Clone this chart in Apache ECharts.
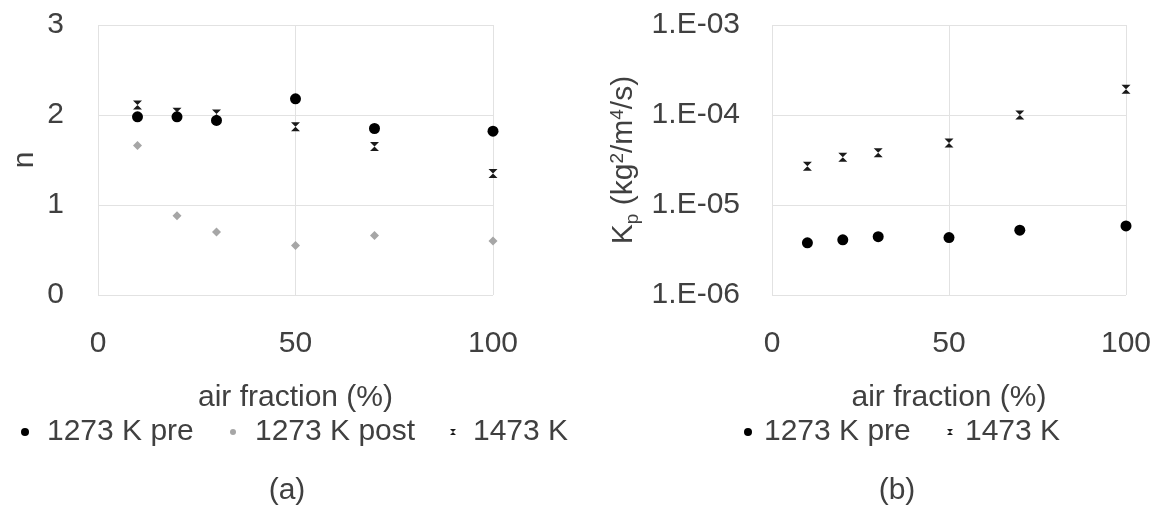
<!DOCTYPE html>
<html>
<head>
<meta charset="utf-8">
<script src="https://cdn.jsdelivr.net/npm/echarts@6/dist/echarts.min.js"></script>
<style>
html,body{margin:0;padding:0;background:#fff;}
#c{width:1156px;height:506px;}
</style>
</head>
<body>
<div id="c"></div>
<script>
// ---- data ----
const airFraction = [10, 20, 30, 50, 70, 100];
// panel (a): exponent n
const nPre1273  = [1.98, 1.98, 1.94, 2.18, 1.85, 1.82];
const nPost1273 = [1.66, 0.88, 0.70, 0.55, 0.66, 0.60];
const n1473     = [2.11, 2.03, 2.01, 1.87, 1.65, 1.35];
// panel (b): Kp (kg2/m4/s)
const kpPre1273 = [3.8e-6, 4.1e-6, 4.45e-6, 4.35e-6, 5.25e-6, 5.85e-6];
const kp1473    = [2.7e-5, 3.4e-5, 3.8e-5, 4.9e-5, 1.0e-4, 1.93e-4];
// tick labels
const xTicks = [0, 50, 100];
const yTicksA = ['0', '1', '2', '3'];
const yTicksB = ['1.E-06', '1.E-05', '1.E-04', '1.E-03'];
const seriesNames = ['1273 K pre', '1273 K post', '1473 K'];
const panelLabels = ['(a)', '(b)'];

const FONT = 'Liberation Sans, Arial, Helvetica, sans-serif';
const TXT = '#404040';
const GRID = '#e2e2e2';
const FS = 30;
const HOUR = 'path://M0,0L10,0L0,10L10,10Z';

const pairs = (xs, ys) => xs.map((x, i) => [x, ys[i]]);

function xAxis(gridIndex) {
  return {
    type: 'value', gridIndex, min: 0, max: 100, interval: 50,
    name: 'air fraction (%)', nameLocation: 'middle', nameGap: 88,
    nameTextStyle: {fontFamily: FONT, fontSize: FS, color: TXT},
    axisLine: {show: false}, axisTick: {show: false},
    axisLabel: {fontFamily: FONT, fontSize: FS, color: TXT, margin: 34,
      formatter: v => String(xTicks[xTicks.indexOf(v)])},
    splitLine: {show: true, lineStyle: {color: GRID, width: 1}}
  };
}

const chart = echarts.init(document.getElementById('c'), null, {renderer: 'canvas'});
chart.setOption({
  backgroundColor: '#ffffff',
  animation: false,
  grid: [
    {left: 98, top: 25, width: 395, height: 270},
    {left: 772, top: 25, width: 354, height: 270}
  ],
  xAxis: [xAxis(0), xAxis(1)],
  yAxis: [
    {
      type: 'value', gridIndex: 0, min: 0, max: 3, interval: 1,
      name: 'n', nameLocation: 'middle', nameGap: 58,
      nameTextStyle: {fontFamily: FONT, fontSize: FS, color: TXT},
      axisLine: {show: false}, axisTick: {show: false},
      axisLabel: {fontFamily: FONT, fontSize: FS, color: TXT, margin: 34,
        formatter: v => yTicksA[Math.round(v)]},
      splitLine: {show: true, lineStyle: {color: GRID, width: 1}}
    },
    {
      type: 'log', logBase: 10, gridIndex: 1, min: 1e-6, max: 1e-3,
      name: '{m|K}{sub|p}{m| (kg}{sup|2}{m|/m}{sup|4}{m|/s)}',
      nameLocation: 'middle', nameGap: 128,
      nameTextStyle: {
        fontFamily: FONT, fontSize: FS, color: TXT,
        rich: {
          m: {fontFamily: FONT, fontSize: FS, color: TXT, lineHeight: 40, verticalAlign: 'middle'},
          sub: {fontFamily: FONT, fontSize: 19, color: TXT, lineHeight: 40, verticalAlign: 'bottom', padding: [0, 0, 2, 0]},
          sup: {fontFamily: FONT, fontSize: 19, color: TXT, lineHeight: 40, verticalAlign: 'top', padding: [4, 0, 0, 0]}
        }
      },
      axisLine: {show: false}, axisTick: {show: false},
      axisLabel: {fontFamily: FONT, fontSize: FS, color: TXT, margin: 32,
        formatter: v => yTicksB[Math.round(Math.log10(v)) + 6]},
      splitLine: {show: true, lineStyle: {color: GRID, width: 1}}
    }
  ],
  legend: [
    {data: [{name: seriesNames[0], icon: 'circle'}], left: 21, top: 417, padding: 0, itemWidth: 8, itemHeight: 8,
     textStyle: {fontFamily: FONT, fontSize: FS, color: TXT, padding: [0, 0, 0, 13]}},
    {data: [{name: seriesNames[1], icon: 'circle'}], left: 230, top: 417, padding: 0, itemWidth: 6, itemHeight: 6,
     textStyle: {fontFamily: FONT, fontSize: FS, color: TXT, padding: [0, 0, 0, 14]}},
    {data: [{name: seriesNames[2], icon: HOUR}], left: 450, top: 417, padding: 0, itemWidth: 6, itemHeight: 7,
     textStyle: {fontFamily: FONT, fontSize: FS, color: TXT, padding: [0, 0, 0, 12]}},
    {data: [{name: seriesNames[0] + ' ', icon: 'circle'}], left: 744, top: 417, padding: 0, itemWidth: 8, itemHeight: 8,
     textStyle: {fontFamily: FONT, fontSize: FS, color: TXT, padding: [0, 0, 0, 7]}},
    {data: [{name: seriesNames[2] + ' ', icon: HOUR}], left: 947, top: 417, padding: 0, itemWidth: 6, itemHeight: 7,
     textStyle: {fontFamily: FONT, fontSize: FS, color: TXT, padding: [0, 0, 0, 7]}}
  ],
  title: [
    {text: panelLabels[0], left: 287, top: 476, textAlign: 'center', padding: 0,
     textStyle: {fontFamily: FONT, fontSize: FS, fontWeight: 'normal', color: TXT}},
    {text: panelLabels[1], left: 897, top: 476, textAlign: 'center', padding: 0,
     textStyle: {fontFamily: FONT, fontSize: FS, fontWeight: 'normal', color: TXT}}
  ],
  series: [
    {name: seriesNames[1], type: 'scatter', xAxisIndex: 0, yAxisIndex: 0,
     data: pairs(airFraction, nPost1273), symbol: 'diamond', symbolSize: 9,
     itemStyle: {color: '#a6a6a6', opacity: 1}},
    {name: seriesNames[2], type: 'scatter', xAxisIndex: 0, yAxisIndex: 0,
     data: pairs(airFraction, n1473), symbol: HOUR, symbolSize: [9, 9],
     itemStyle: {color: '#1a1a1a', opacity: 1}},
    {name: seriesNames[0], type: 'scatter', xAxisIndex: 0, yAxisIndex: 0,
     data: pairs(airFraction, nPre1273), symbol: 'circle', symbolSize: 11,
     itemStyle: {color: '#000000', opacity: 1}},
    {name: seriesNames[2] + ' ', type: 'scatter', xAxisIndex: 1, yAxisIndex: 1,
     data: pairs(airFraction, kp1473), symbol: HOUR, symbolSize: [9, 9],
     itemStyle: {color: '#1a1a1a', opacity: 1}},
    {name: seriesNames[0] + ' ', type: 'scatter', xAxisIndex: 1, yAxisIndex: 1,
     data: pairs(airFraction, kpPre1273), symbol: 'circle', symbolSize: 11,
     itemStyle: {color: '#000000', opacity: 1}}
  ]
});
</script>
</body>
</html>
